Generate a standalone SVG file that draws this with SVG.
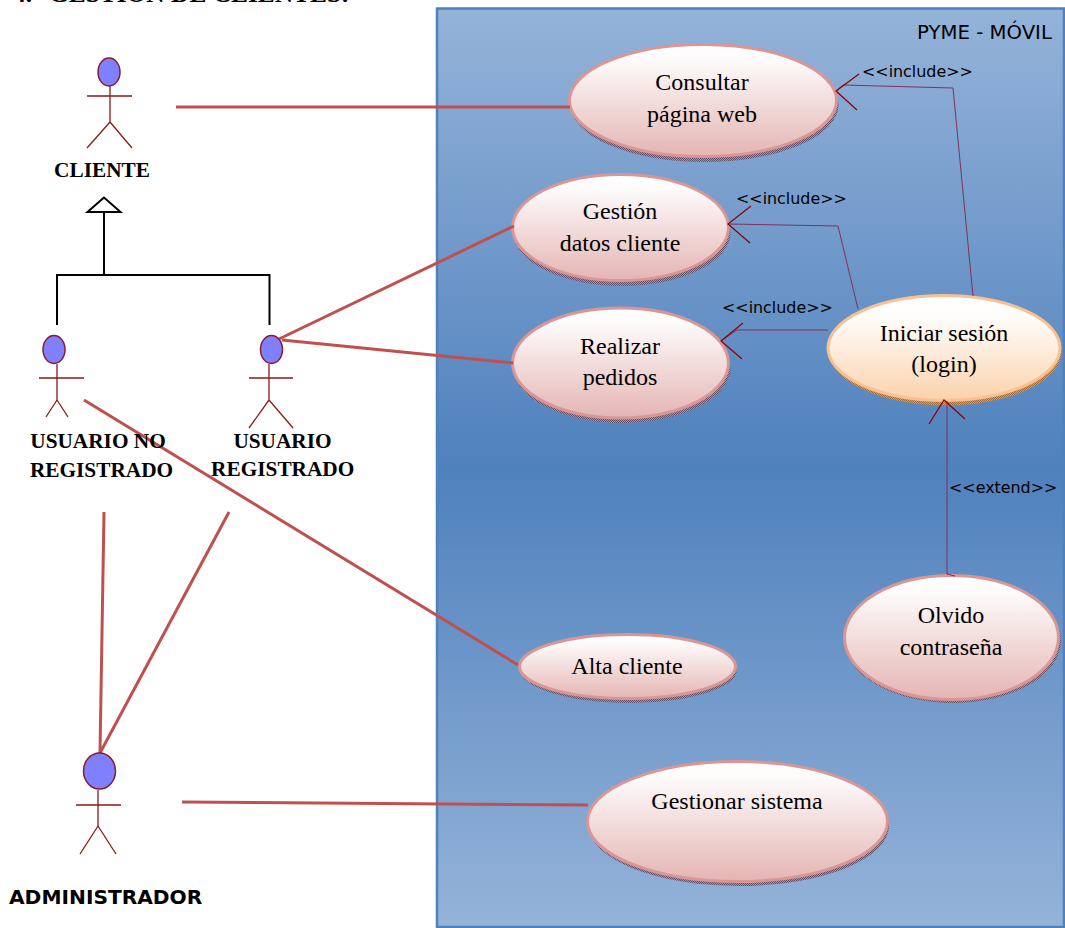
<svg xmlns="http://www.w3.org/2000/svg" width="1065" height="928" viewBox="0 0 1065 928">
<defs>
<linearGradient id="bg" x1="0" y1="0" x2="0" y2="1"><stop offset="0" stop-color="#95b3d9"/><stop offset="0.5" stop-color="#4f81bd"/><stop offset="1" stop-color="#95b3d9"/></linearGradient>
<linearGradient id="pink" x1="0" y1="0" x2="0" y2="1"><stop offset="0" stop-color="#ffffff"/><stop offset="0.15" stop-color="#fdfafa"/><stop offset="1" stop-color="#e4b5b3"/></linearGradient>
<linearGradient id="orange" x1="0" y1="0" x2="0" y2="1"><stop offset="0" stop-color="#ffffff"/><stop offset="0.2" stop-color="#fffdfb"/><stop offset="1" stop-color="#fbd2ac"/></linearGradient>
<pattern id="hatch" width="2" height="2" patternUnits="userSpaceOnUse"><rect width="2" height="2" fill="#a595a5"/><rect width="1" height="1" fill="#5f5068"/><rect x="1" y="1" width="1" height="1" fill="#5f5068"/></pattern>
<pattern id="hatcho" width="2" height="2" patternUnits="userSpaceOnUse"><rect width="2" height="2" fill="#c9a27e"/><rect width="1" height="1" fill="#9a6a3a"/><rect x="1" y="1" width="1" height="1" fill="#9a6a3a"/></pattern>
</defs>
<style>
.serif{font-family:"Liberation Serif",serif;fill:#000}
.sans{font-family:"DejaVu Sans",sans-serif;fill:#000}
.uc{font-size:24px;text-anchor:middle}
.act{font-size:21.3px;font-weight:bold;text-anchor:middle}
.lbl{font-size:15.9px}
.uc-e{fill:url(#pink);stroke:#d99694;stroke-width:3}
.uc-o{fill:url(#orange);stroke:#fac090;stroke-width:3}
.sh{fill:url(#hatch)}
.sho{fill:url(#hatcho)}
.head{fill:#8080ff;stroke:#8b1a2b;stroke-width:1.5}
.body{fill:none;stroke:#8b1a1a;stroke-width:1.3}
.assoc{fill:none;stroke:#c0504d;stroke-width:3}
.dep{fill:none;stroke:#7d3358;stroke-width:1}
.arr{fill:none;stroke:#8b0000;stroke-width:1.2}
.gen{fill:none;stroke:#000;stroke-width:2}
</style>
<text class="serif" y="2" font-size="25.400" font-weight="bold"><tspan x="13">4.</tspan><tspan x="49">GESTIÓN DE CLIENTES:</tspan></text>
<g id="boundary">
<rect x="437" y="8.500" width="627" height="918.500" fill="url(#bg)" stroke="#4f81bd" stroke-width="2.500"/>
<text class="sans" x="917" y="38.500" font-size="19.700">PYME - MÓVIL</text>
</g>
<g id="uc-consultar"><ellipse class="sh" cx="704.500" cy="105" rx="134" ry="57"/><ellipse class="uc-e" cx="703" cy="100.500" rx="133.500" ry="56"/><text class="serif uc" x="702" y="90">Consultar</text><text class="serif uc" x="702" y="122">página web</text></g>
<g id="uc-gestion"><ellipse class="sh" cx="622" cy="232.500" rx="108.500" ry="53.500"/><ellipse class="uc-e" cx="620.500" cy="227.500" rx="108" ry="53"/><text class="serif uc" x="620" y="219">Gestión</text><text class="serif uc" x="620" y="251">datos cliente</text></g>
<g id="uc-pedidos"><ellipse class="sh" cx="622" cy="367.500" rx="108.500" ry="55.500"/><ellipse class="uc-e" cx="620.500" cy="363" rx="108" ry="55"/><text class="serif uc" x="620" y="354">Realizar</text><text class="serif uc" x="620" y="385">pedidos</text></g>
<g id="uc-login"><ellipse class="sho" cx="945.500" cy="352" rx="116" ry="53.500"/><ellipse class="uc-o" cx="944" cy="348" rx="116" ry="52.500"/><text class="serif uc" x="944" y="341">Iniciar sesión</text><text class="serif uc" x="944" y="372">(login)</text></g>
<g id="uc-olvido"><ellipse class="sh" cx="953" cy="641" rx="108" ry="62"/><ellipse class="uc-e" cx="951.500" cy="637.500" rx="107" ry="62"/><text class="serif uc" x="951" y="623">Olvido</text><text class="serif uc" x="951" y="655">contraseña</text></g>
<g id="uc-alta"><ellipse class="sh" cx="629" cy="670" rx="108" ry="33"/><ellipse class="uc-e" cx="627.500" cy="666.500" rx="108" ry="32"/><text class="serif uc" x="627" y="674">Alta cliente</text></g>
<g id="uc-sistema"><ellipse class="sh" cx="739" cy="826" rx="150" ry="60"/><ellipse class="uc-e" cx="737.500" cy="821.500" rx="150" ry="60"/><text class="serif uc" x="737" y="809">Gestionar sistema</text></g>
<g id="connectors">
<path class="assoc" d="M176 107H570"/>
<path class="assoc" d="M279 339L514 226"/>
<path class="assoc" d="M282 340L513 363"/>
<path class="assoc" d="M84 400L518 665"/>
<path class="assoc" d="M104 512L100 753"/>
<path class="assoc" d="M229 512L100 753"/>
<path class="assoc" d="M182 802L588 805"/>
<path class="dep" d="M973 296L953 88L843 85L836 91"/>
<path class="arr" d="M859 74L836 91L857 110"/>
<path class="dep" d="M858 309L838 226L728 224"/>
<path class="arr" d="M751 206L728 224L750 243"/>
<path class="dep" d="M828 330H737L721 341"/>
<path class="arr" d="M743 323L721 341L742 359"/>
<path class="dep" d="M955 576L947 574V401"/>
<path class="arr" d="M929 424L944 400L965 419"/>
<path class="gen" d="M104 275V212"/>
<path d="M104 197.500L87.500 212H120.500Z" fill="#fff" stroke="#000" stroke-width="2"/>
<path class="gen" d="M57 325V275H269.500V325"/>
<text class="sans lbl" x="862" y="77">&lt;&lt;include&gt;&gt;</text>
<text class="sans lbl" x="736" y="204">&lt;&lt;include&gt;&gt;</text>
<text class="sans lbl" x="722" y="313">&lt;&lt;include&gt;&gt;</text>
<text class="sans lbl" x="949" y="493">&lt;&lt;extend&gt;&gt;</text>
</g>
<g id="actor-cliente"><ellipse class="head" cx="109" cy="72" rx="11" ry="14"/><path class="body" d="M110 86V122M87 96H132M110 122L87 148M110 122L132 148"/><text class="serif act" x="102" y="177">CLIENTE</text></g>
<g id="actor-no-registrado"><ellipse class="head" cx="54" cy="349.500" rx="11" ry="14"/><path class="body" d="M57 364V400M39 378H84M57 400L46 417M57 400L68 417"/><text class="serif act" x="98" y="448">USUARIO NO</text><text class="serif act" x="101.500" y="477">REGISTRADO</text></g>
<g id="actor-registrado"><ellipse class="head" cx="271.500" cy="349.500" rx="11" ry="14"/><path class="body" d="M269 364V400M249 378H293M269 400L249 428M269 400L293 428"/><text class="serif act" x="282.500" y="448">USUARIO</text><text class="serif act" x="282.700" y="476">REGISTRADO</text></g>
<g id="actor-administrador"><ellipse class="head" cx="99.500" cy="771" rx="16" ry="18"/><path class="body" d="M98 790V826M76 805H121M98 826L80 854M98 826L116 854"/><text class="sans" x="9" y="903.500" font-size="20.200" font-weight="bold">ADMINISTRADOR</text></g>
</svg>
